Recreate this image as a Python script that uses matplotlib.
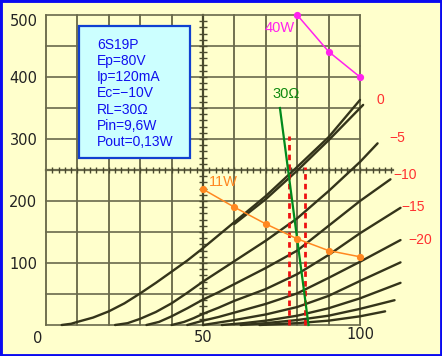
import numpy as np
import matplotlib
matplotlib.use('Agg')
import matplotlib.pyplot as plt
from matplotlib.patches import Rectangle

# Plate curves (Ep in V, Ip in mA)
ep_0 = [5, 8, 10, 15, 20, 25, 30, 35, 40, 45, 50, 60, 70, 80, 90, 100]
ip_0 = [0, 2, 5, 12, 22, 35, 51, 68, 86, 104, 124, 166, 208, 255, 303, 363]
ep_0b = [60, 70, 80, 90, 101]
ip_0b = [163, 203, 249, 298, 355]
ep_5 = [22, 26, 30, 35, 40, 45, 50, 60, 70, 80, 90, 100, 105.6]
ip_5 = [0, 3, 10, 21, 35, 52, 70, 103, 136, 172, 216, 263, 293]
ep_10 = [32, 36, 40, 45, 50, 55, 60, 70, 80, 90, 100, 109.7]
ip_10 = [0, 5, 14, 27, 41, 53, 66, 92, 120, 160, 200, 235]
ep_15 = [40, 44, 47, 50, 55, 60, 70, 80, 90, 100, 112.9]
ip_15 = [0, 5, 11, 18, 28, 39, 58, 82, 113, 148, 189]
ep_20 = [45, 50, 55, 60, 70, 80, 90, 100, 112.9]
ip_20 = [0, 7, 13, 20, 34, 51, 76, 102, 137]
ep_25 = [50, 55, 60, 70, 80, 90, 100, 112.9]
ip_25 = [0, 4, 8, 17, 29, 47, 71, 101]
ep_30 = [56, 63, 70, 80, 90, 100, 112.9]
ip_30 = [0, 3, 7, 15, 27, 43, 68]
ep_35 = [62, 70, 80, 90, 100, 111]
ip_35 = [0, 3, 8, 15, 26, 40]
ep_40 = [68, 80, 90, 100, 108]
ip_40 = [0, 3, 7, 14, 22]
curves = [(ep_0, ip_0), (ep_0b, ip_0b), (ep_5, ip_5), (ep_10, ip_10),
          (ep_15, ip_15), (ep_20, ip_20), (ep_25, ip_25), (ep_30, ip_30),
          (ep_35, ip_35), (ep_40, ip_40)]

# grid voltage labels
grid_labels = ['0', '\u22125', '\u221210', '\u221215', '\u221220']
grid_lab_x = [106.4, 111.8, 114.4, 117, 119.2]
grid_lab_y = [363, 301, 242, 190, 137]

# dissipation curves
pa40_ep = [80, 90, 100]
pa40_ip = [500, 441, 400]
pa11_ep = [50, 60, 70, 80, 90, 100]
pa11_ip = [219, 190, 163, 139, 120, 110]

# 30 ohm load line and swing limits
load_ep = [74.5, 83.6]
load_ip = [350, 0]
swing_ep = [77.5, 82.6]
swing_top = [305, 255]

info = ['6S19P', 'Ep=80V', 'Ip=120mA', 'Ec=\u221210V', 'RL=30\u03a9',
        'Pin=9,6W', 'Pout=0,13W']

fig = plt.figure(figsize=(4.42, 3.56), dpi=100)
fig.patch.set_facecolor('#FFFFCC')
ax = fig.add_axes([0, 0, 1, 1])
ax.set_xlim(-46 / 3.14, (442 - 46) / 3.14)
ax.set_ylim(-31 / 0.62, 325 / 0.62)
ax.axis('off')

# paper grid
for gx in range(0, 101, 10):
    lw = 1.6 if gx == 50 else 1.1
    ax.plot([gx, gx], [0, 500], color='#4a4a2e', lw=lw, zorder=1)
for gy in range(0, 501, 50):
    x1 = 110.5 if gy == 250 else 100
    lw = 1.6 if gy == 250 else 1.2
    ax.plot([0, x1], [gy, gy], color='#6a6a4c', lw=lw, zorder=1)
tx = np.arange(2, 111, 2)
ax.vlines(tx, 245, 255, color='#4a4a2e', lw=1.0, zorder=1)
ty = np.arange(10, 500, 10)
ax.hlines(ty, 48.8, 51.2, color='#4a4a2e', lw=1.0, zorder=1)

for ex, iy in curves:
    ax.plot(ex, iy, color='#34341a', lw=1.7, solid_capstyle='round', zorder=2)

# axis labels
for v in [100, 200, 300, 400]:
    ax.text(-7.2, v - 3, str(v), ha='center', va='center', fontsize=10.5,
            color='#222222')
ax.text(-7.2, 490, '500', ha='center', va='center', fontsize=10.5, color='#222222')
ax.text(-2.6, -21, '0', ha='center', va='center', fontsize=10.5, color='#222222')
ax.text(50, -20, '50', ha='center', va='center', fontsize=10.5, color='#222222')
ax.text(100, -16, '100', ha='center', va='center', fontsize=10.5, color='#222222')

for lab, lx, ly in zip(grid_labels, grid_lab_x, grid_lab_y):
    ax.text(lx, ly, lab, ha='center', va='center', fontsize=10,
            family='Liberation Sans', color='#FF3030')

# overlays
ax.plot(swing_ep[:1] * 2, [0, swing_top[0]], color='#EE1111', lw=2,
        ls=(0, (2, 1.5)), zorder=4)
ax.plot(swing_ep[1:] * 2, [0, swing_top[1]], color='#EE1111', lw=2,
        ls=(0, (2, 1.5)), zorder=4)
ax.plot(load_ep, load_ip, color='#008A1C', lw=1.6, zorder=5)
ax.text(76.4, 373, '30\u03a9', ha='center', va='center', fontsize=10.5,
        family='Liberation Sans', color='#108A10')
ax.plot(pa11_ep, pa11_ip, color='#FF8820', lw=1.1, marker='o', ms=4.2, zorder=6)
ax.text(52, 231, '11W', ha='left', va='center', fontsize=10.5,
        family='Liberation Sans', color='#FF8820')
ax.plot(pa40_ep, pa40_ip, color='#FF22EE', lw=1.1, marker='o', ms=4.2,
        zorder=6, clip_on=False)
ax.text(74.5, 479, '40W', ha='center', va='center', fontsize=10.5,
        family='Liberation Sans', color='#FF22EE')

# info box
ax.add_patch(Rectangle((10.5, 269), 35.4, 213, facecolor='#CCFFFF',
                       edgecolor='#1040D0', lw=1.6, zorder=7))
for i, t in enumerate(info):
    ax.text(16.2, 451.5 - i * 26, t, ha='left', va='center', fontsize=10,
            family='Liberation Sans', color='#1010EE', zorder=8)

fig.patches.append(Rectangle((0, 0), 1, 1, transform=fig.transFigure,
                             fill=False, edgecolor='#0A0AF0', lw=3.5))

fig.savefig('out.png', dpi=100, facecolor=fig.get_facecolor())
